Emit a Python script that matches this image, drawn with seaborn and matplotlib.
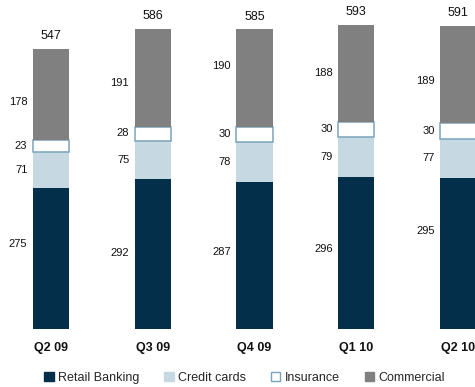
import matplotlib
matplotlib.use("Agg")
import matplotlib.pyplot as plt
from matplotlib.patches import Patch
import numpy as np
import pandas as pd
import seaborn as sns

quarters = ["Q2 09", "Q3 09", "Q4 09", "Q1 10", "Q2 10"]
retail = [275, 292, 287, 296, 295]
credit = [71, 75, 78, 79, 77]
insurance = [23, 28, 30, 30, 30]
commercial = [178, 191, 190, 188, 189]
totals = [547, 586, 585, 593, 591]

series_names = ["Retail Banking", "Credit cards", "Insurance", "Commercial"]
fill_colors = ["#032f4a", "#c6d9e3", "#ffffff", "#808080"]
edge_colors = ["none", "none", "#7aa3bc", "none"]

# vertical nudges (in pixels) for the segment labels, per series
label_nudge = {
    "Retail Banking": [15, 1, 4, 4, 22],
    "Credit cards": [0, 0, 0, 0, 0],
    "Insurance": [0, 1, 0, 0, 0],
    "Commercial": [-8, -5, 12, 0, -6],
}

sns.set_theme(style="white")
plt.rcParams["font.family"] = ["Liberation Sans", "DejaVu Sans"]

fig = plt.figure(figsize=(4.75, 3.87), dpi=100)
ax = fig.add_axes([0.0, 58 / 387, 1.0, 319 / 387])

df = pd.DataFrame({"quarter": quarters, "Retail Banking": retail,
                   "Credit cards": credit, "Insurance": insurance,
                   "Commercial": commercial})

bar_w = 0.354
px = 72 / 100  # points per pixel
bottoms = np.zeros(len(quarters))
for name, fc, ec in zip(series_names, fill_colors, edge_colors):
    vals = df[name].to_numpy(dtype=float)
    sns.barplot(data=df, x="quarter", y=name, order=quarters, ax=ax,
                bottom=bottoms.copy(), color=fc, width=bar_w,
                edgecolor=ec, linewidth=1.1 if ec != "none" else 0,
                saturation=1)
    # value labels to the left of each segment
    for i, (v, b) in enumerate(zip(vals, bottoms)):
        ax.annotate(f"{int(v)}", xy=(i - bar_w / 2, b + v / 2),
                    xytext=(-4, label_nudge[name][i] * px),
                    textcoords="offset points",
                    ha="right", va="center", fontsize=8, color="#111111")
    bottoms = bottoms + vals

for i, t in enumerate(totals):
    ax.annotate(f"{t}", xy=(i, t), xytext=(0, 5), textcoords="offset points",
                ha="center", va="bottom", fontsize=9, color="#111111")

ax.set_xlim(-0.501, 4.167)
ax.set_ylim(0, 623)
ax.set_xlabel("")
ax.set_ylabel("")
ax.set_yticks([])
for s in ax.spines.values():
    s.set_visible(False)
ax.tick_params(axis="x", length=0, pad=9)
for lab in ax.get_xticklabels():
    lab.set_fontweight("bold")
    lab.set_fontsize(9)
    lab.set_color("#111111")

handles = [Patch(facecolor=fc, edgecolor=(ec if ec != "none" else fc),
                 linewidth=1.0, label=n)
           for n, fc, ec in zip(series_names, fill_colors, edge_colors)]
fig.legend(handles=handles, loc="center", bbox_to_anchor=(0.515, 9 / 387),
           ncol=4, frameon=False, fontsize=9, handlelength=0.75,
           handleheight=0.75, handletextpad=0.35, columnspacing=2.0,
           borderaxespad=0)

fig.savefig("out.png", dpi=100)
